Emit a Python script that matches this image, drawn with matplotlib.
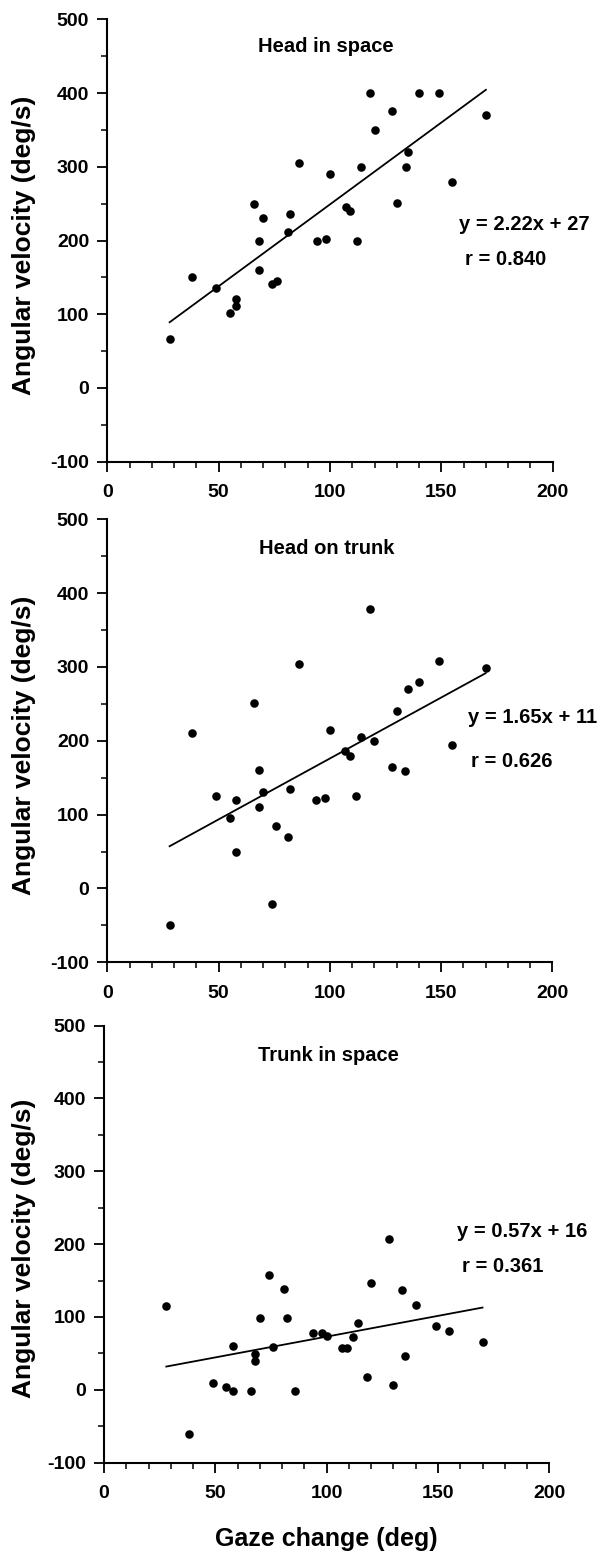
import numpy as np
import matplotlib
matplotlib.use('Agg')
import matplotlib.pyplot as plt
from matplotlib.ticker import MultipleLocator

plt.rcParams['font.family'] = ['Liberation Sans', 'DejaVu Sans']
plt.rcParams['font.weight'] = 'bold'
plt.rcParams['axes.unicode_minus'] = False

# gaze change (deg), same trials in all three panels
gaze = [28, 38, 49, 55, 58, 58, 66, 68, 68, 70, 74, 76, 81, 82, 86, 94,
        98, 100, 107, 109, 112, 114, 118, 120, 128, 130, 134, 135, 140, 149, 155, 170]

# angular velocity (deg/s)
head_in_space = [66, 150, 136, 101, 121, 111, 250, 200, 160, 231, 141, 145, 211, 236, 305, 200,
                 202, 290, 246, 240, 200, 300, 400, 350, 375, 251, 300, 320, 400, 400, 280, 370]
head_on_trunk = [-50, 211, 125, 95, 120, 49, 251, 160, 110, 131, -21, 85, 70, 135, 304, 120,
                 122, 215, 186, 179, 125, 205, 379, 200, 164, 240, 159, 270, 280, 308, 194, 298]
trunk_in_space = [115, -60, 9, 4, -1, 60, -1, 39, 49, 99, 158, 59, 138, 99, -2, 78,
                  78, 74, 58, 58, 72, 92, 17, 147, 207, 7, 137, 47, 117, 87, 81, 66]

titles = ['Head in space', 'Head on trunk', 'Trunk in space']
slopes = [2.22, 1.65, 0.57]
intercepts = [27, 11, 16]
r_values = ['0.840', '0.626', '0.361']
series = [head_in_space, head_on_trunk, trunk_in_space]

W, H = 602, 1563
fig = plt.figure(figsize=(W / 100, H / 100), dpi=100)

# axes boxes in pixels: left, top, right, bottom
boxes = [(107.3, 19.3, 552.7, 461.7),
         (107.3, 519.3, 552.3, 962.3),
         (104.0, 1025.5, 549.3, 1462.7)]
# equation label positions (data coords)
eq_pos = [((158, 222), (160.6, 174)),
          ((162, 232), (163.6, 172)),
          ((158.4, 217), (161, 169))]
title_x = [98, 98.5, 101]
title_y = [463, 461, 459.5]

for i in range(3):
    l, t, r, b = boxes[i]
    ax = fig.add_axes([l / W, (H - b) / H, (r - l) / W, (b - t) / H])
    x = np.array(gaze)
    y = np.array(series[i])
    ax.scatter(x, y, s=38, color='black', zorder=3, linewidths=0)
    xl = np.array([x.min(), x.max()])
    ax.plot(xl, slopes[i] * xl + intercepts[i], color='black', lw=1.3)

    ax.set_xlim(0, 200)
    ax.set_ylim(-100, 500)
    ax.spines['top'].set_visible(False)
    ax.spines['right'].set_visible(False)
    ax.spines['left'].set_linewidth(1.5)
    ax.spines['bottom'].set_linewidth(1.5)
    ax.xaxis.set_major_locator(MultipleLocator(50))
    ax.xaxis.set_minor_locator(MultipleLocator(10))
    ax.yaxis.set_major_locator(MultipleLocator(100))
    ax.yaxis.set_minor_locator(MultipleLocator(50))
    ax.tick_params(which='major', length=7, width=1.3, labelsize=14)
    ax.tick_params(which='minor', length=4, width=1.1)
    ax.tick_params(axis='x', which='major', pad=9)
    ax.tick_params(axis='y', which='major', pad=6)
    for lab in ax.get_xticklabels() + ax.get_yticklabels():
        lab.set_fontweight('bold')

    ax.text(title_x[i], title_y[i], titles[i], ha='center', va='center',
            fontsize=14.5, fontweight='bold')
    (ex, ey), (rx, ry) = eq_pos[i]
    ax.text(ex, ey, 'y = %.2fx + %d' % (slopes[i], intercepts[i]), ha='left', va='center',
            fontsize=14.5, fontweight='bold')
    ax.text(rx, ry, 'r = ' + r_values[i], ha='left', va='center',
            fontsize=14.5, fontweight='bold')

    ax.set_ylabel('Angular velocity (deg/s)', fontsize=19, fontweight='bold', va='center')
    ax.yaxis.set_label_coords((24 - l) / (r - l), 0.49)
    if i == 2:
        ax.set_xlabel('Gaze change (deg)', fontsize=18, fontweight='bold', labelpad=18)

fig.savefig('out.png', dpi=100)
